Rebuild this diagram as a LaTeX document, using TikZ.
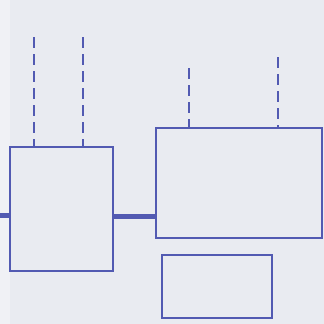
\documentclass[tikz,border=0pt]{standalone}
\usepackage{tikz}
\usetikzlibrary{positioning, calc}

\definecolor{ink}{RGB}{82,90,178}
\definecolor{paper}{RGB}{233,235,241}

\begin{document}
\begin{tikzpicture}[
    x=1pt, y=-1pt,
    box/.style={draw=ink, line width=1.8pt, inner sep=0pt},
    hidden/.style={draw=ink, line width=1.4pt, dash pattern=on 11pt off 6pt},
    shaft/.style={draw=ink, line width=5pt}
]
    % sheet
    \fill[paper] (0,0) rectangle (324,324);
    \fill[white, opacity=0.35] (0,0) rectangle (10,324);
    \useasboundingbox (0,0) rectangle (324,324);

    \node[box, minimum width=103pt, minimum height=124pt] (lb) at (61.5,209) {};
    \node[box, minimum width=166pt, minimum height=110pt] (rb) at (239,183) {};
    \node[box, minimum width=110pt, minimum height=63pt] (sb) at (217,286.5) {};

    % dashed lines above the boxes
    \coordinate (d1) at (34,37);
    \coordinate (d2) at (83,37);
    \coordinate (d3) at (189,68);
    \coordinate (d4) at (278,57);
    \draw[hidden] (d1) -- (d1 |- lb.north);
    \draw[hidden] (d2) -- (d2 |- lb.north);
    \draw[hidden] (d3) -- (d3 |- rb.north);
    \draw[hidden] (d4) -- (d4 |- rb.north);

    % shaft
    \coordinate (in) at (0,215);
    \coordinate (mid) at ($(lb.east)+(0,7)$);
    \draw[shaft] (in) -- (in -| lb.west);
    \draw[shaft] (mid) -- (mid -| rb.west);
\end{tikzpicture}
\end{document}
